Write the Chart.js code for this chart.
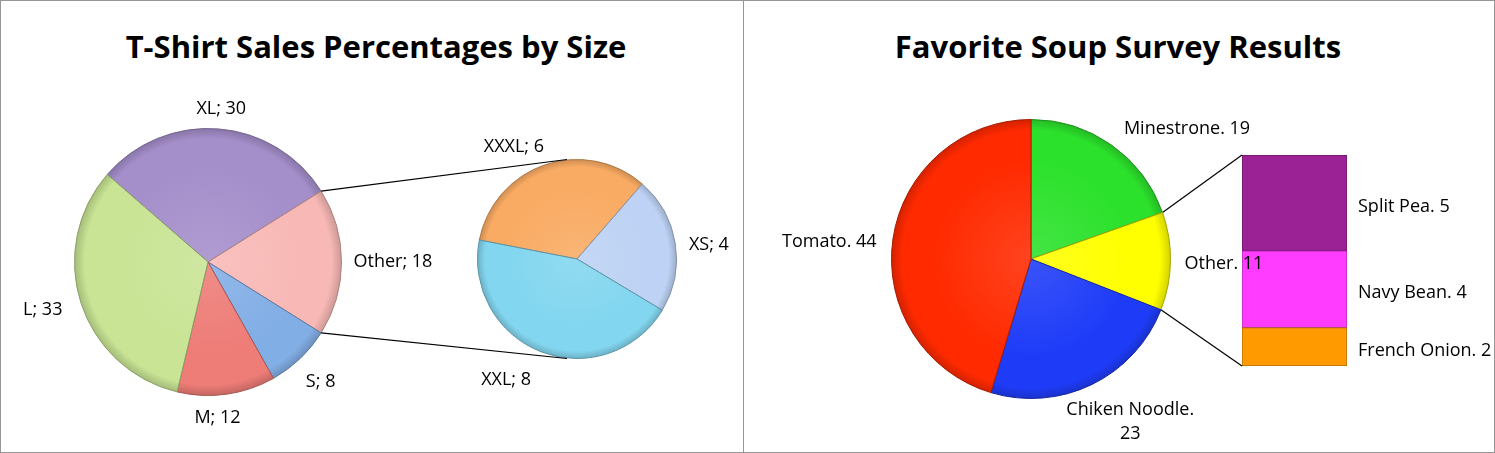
<!DOCTYPE html>
<html>
<head>
<meta charset="utf-8">
<title>Pie of pie / bar of pie</title>
<script src="https://cdn.jsdelivr.net/npm/chart.js@4.4.1/dist/chart.umd.min.js"></script>
<style>
  body { margin: 0; background: #fff; font-family: 'Open Sans', sans-serif; }
  .panel { position: absolute; top: 0; height: 451px; border: 1px solid #969696; background: #fff; overflow: hidden; }
  #left { left: 0; width: 742px; }
  #right { left: 743px; width: 750px; }
  .title { position: absolute; top: 24px; left: 0; text-align: center; font-weight: bold; font-size: 31px; color: #000; white-space: nowrap; }
  canvas { position: absolute; left: 0; top: 0; }
  #soupMain { z-index: 2; }
  #soupOther { z-index: 1; }
</style>
</head>
<body>
<div class="panel" id="left">
  <div class="title" style="width:750px">T-Shirt Sales Percentages by Size</div>
  <canvas id="sizeMain" width="742" height="451"></canvas>
  <canvas id="sizeOther" width="742" height="451"></canvas>
</div>
<div class="panel" id="right">
  <div class="title" style="width:748px">Favorite Soup Survey Results</div>
  <canvas id="soupMain" width="750" height="451"></canvas>
  <canvas id="soupOther" width="750" height="451"></canvas>
</div>
<script>
// t-shirt sizes (main pie, "Other" is split out in the small pie)
const sizeLabels = ['XL', 'Other', 'S', 'M', 'L'];
const sizeValues = [30, 18, 8, 12, 33];
const sizeOtherLabels = ['XXXL', 'XS', 'XXL'];
const sizeOtherValues = [6, 4, 8];

// soup survey (main pie, "Other" is split out in the bar)
const soupLabels = ['Minestrone', 'Other', 'Chiken Noodle', 'Tomato'];
const soupValues = [19, 11, 23, 44];
const soupOtherLabels = ['French Onion', 'Navy Bean', 'Split Pea'];
const soupOtherValues = [2, 4, 5];

const sizeColors = ['#a58fcb', '#f8b9b6', '#82aee6', '#ee7c77', '#c8e494'];
const sizeOtherColors = ['#f9ab63', '#bdd2f4', '#82d6ef'];
const soupColors = ['#2ce12c', '#ffff00', '#1e3cf8', '#ff2a00'];
const soupOtherColors = ['#ff9a00', '#ff3cff', '#9b2294'];

const FONT = { family: "'Open Sans', sans-serif", size: 18 };
const LINE_H = 24;

function shade(hex, f) {
  const n = parseInt(hex.slice(1), 16);
  let r = n >> 16, g = (n >> 8) & 255, b = n & 255;
  if (f < 0) { r *= 1 + f; g *= 1 + f; b *= 1 + f; }
  else { r += (255 - r) * f; g += (255 - g) * f; b += (255 - b) * f; }
  return `rgb(${Math.round(r)},${Math.round(g)},${Math.round(b)})`;
}

// slightly bevelled fill like the office chart style
function pieFill(colors) {
  return (c) => {
    const base = colors[c.dataIndex];
    const a = c.chart.chartArea;
    if (!a) return base;
    const cx = (a.left + a.right) / 2, cy = (a.top + a.bottom) / 2;
    const r = Math.min(a.right - a.left, a.bottom - a.top) / 2;
    const g = c.chart.ctx.createRadialGradient(cx, cy, 0, cx, cy, r);
    g.addColorStop(0, shade(base, 0.12));
    g.addColorStop(0.7, base);
    g.addColorStop(0.92, base);
    g.addColorStop(1, shade(base, -0.18));
    return g;
  };
}

function pieLabels(sep, gap, wrap, shift) {
  return {
    id: 'pieLabels',
    afterDatasetsDraw(chart) {
      const ctx = chart.ctx;
      const meta = chart.getDatasetMeta(0);
      ctx.save();
      ctx.font = `${FONT.size}px ${FONT.family}`;
      ctx.fillStyle = '#000';
      ctx.textAlign = 'center';
      ctx.textBaseline = 'middle';
      meta.data.forEach((arc, i) => {
        const p = arc.getProps(['x', 'y', 'startAngle', 'endAngle', 'outerRadius'], true);
        const mid = (p.startAngle + p.endAngle) / 2;
        const ux = Math.cos(mid), uy = Math.sin(mid);
        const name = chart.data.labels[i];
        const value = chart.data.datasets[0].data[i];
        let lines = [name + sep + value];
        if (wrap && ctx.measureText(lines[0]).width > wrap) lines = [name + sep.trim(), String(value)];
        const w = Math.max(...lines.map(l => ctx.measureText(l).width));
        const h = lines.length * LINE_H;
        const d = shift[name] || [0, 0];
        const cx = p.x + (p.outerRadius + gap) * ux + ux * w / 2 + d[0];
        const cy = p.y + (p.outerRadius + gap) * uy + uy * h / 2 + d[1];
        lines.forEach((l, k) => ctx.fillText(l, cx, cy - h / 2 + LINE_H * (k + 0.5)));
      });
      ctx.restore();
    }
  };
}

function edgePoints(chart, label) {
  const i = chart.data.labels.indexOf(label);
  const p = chart.getDatasetMeta(0).data[i].getProps(['x', 'y', 'startAngle', 'endAngle', 'outerRadius'], true);
  return [
    [p.x + p.outerRadius * Math.cos(p.startAngle), p.y + p.outerRadius * Math.sin(p.startAngle)],
    [p.x + p.outerRadius * Math.cos(p.endAngle), p.y + p.outerRadius * Math.sin(p.endAngle)]
  ];
}

function drawLines(ctx, pairs) {
  ctx.save();
  ctx.strokeStyle = '#000';
  ctx.lineWidth = 1.2;
  pairs.forEach(([a, b]) => {
    ctx.beginPath();
    ctx.moveTo(a[0], a[1]);
    ctx.lineTo(b[0], b[1]);
    ctx.stroke();
  });
  ctx.restore();
}

const pieBase = (rotation, pad) => ({
  responsive: false,
  animation: false,
  rotation,
  layout: { padding: pad },
  plugins: { legend: { display: false }, tooltip: { enabled: false } },
  events: []
});

const sizeChart = new Chart(document.getElementById('sizeMain'), {
  type: 'pie',
  data: {
    labels: sizeLabels,
    datasets: [{ data: sizeValues, backgroundColor: pieFill(sizeColors), borderColor: sizeColors.map(c => shade(c, -0.3)), borderWidth: 1, hoverOffset: 0 }]
  },
  options: pieBase(-49, { left: 73, right: 401, top: 127, bottom: 56 }),
  plugins: [pieLabels('; ', 12, 0, { XL: [0, 4], S: [2, 6], M: [-14, 0], L: [-8, 0] })]
});

new Chart(document.getElementById('sizeOther'), {
  type: 'pie',
  data: {
    labels: sizeOtherLabels,
    datasets: [{ data: sizeOtherValues, backgroundColor: pieFill(sizeOtherColors), borderColor: sizeOtherColors.map(c => shade(c, -0.3)), borderWidth: 1, hoverOffset: 0 }]
  },
  options: pieBase(-79, { left: 476, right: 66, top: 158, bottom: 93 }),
  plugins: [pieLabels('; ', 12, 0, { XXXL: [-17, 5], XS: [2, 5], XXL: [-22, 6] }), {
    id: 'connect',
    afterDraw(chart) {
      const [a, b] = edgePoints(sizeChart, 'Other');
      const s = chart.getDatasetMeta(0).data[0].getProps(['x', 'y', 'outerRadius'], true);
      drawLines(chart.ctx, [[a, [s.x - 10, s.y - s.outerRadius]], [b, [s.x - 10, s.y + s.outerRadius]]]);
    }
  }]
});

const soupChart = new Chart(document.getElementById('soupMain'), {
  type: 'pie',
  data: {
    labels: soupLabels,
    datasets: [{ data: soupValues, backgroundColor: pieFill(soupColors), borderColor: soupColors.map(c => shade(c, -0.35)), borderWidth: 1, hoverOffset: 0 }]
  },
  options: pieBase(0, { left: 147, right: 323, top: 118, bottom: 53 }),
  plugins: [pieLabels('. ', 14, 140, { Minestrone: [31, 5], 'Chiken Noodle': [4, 3], Tomato: [-3, 7], Other: [0, 2] })]
});

new Chart(document.getElementById('soupOther'), {
  type: 'bar',
  data: {
    labels: ['Other'],
    datasets: soupOtherLabels.map((name, i) => ({
      label: name,
      data: [soupOtherValues[i]],
      backgroundColor: soupOtherColors[i],
      borderColor: shade(soupOtherColors[i], -0.3),
      borderWidth: 1,
      borderSkipped: false,
      categoryPercentage: 1,
      barPercentage: 1
    }))
  },
  options: {
    responsive: false,
    animation: false,
    events: [],
    layout: { padding: { left: 498, right: 147, top: 154, bottom: 86 } },
    scales: {
      x: { stacked: true, display: false },
      y: { stacked: true, display: false, min: 0, max: 11 }
    },
    plugins: { legend: { display: false }, tooltip: { enabled: false } }
  },
  plugins: [{
    id: 'barLabels',
    afterDraw(chart) {
      const ctx = chart.ctx;
      ctx.save();
      ctx.font = `${FONT.size}px ${FONT.family}`;
      ctx.fillStyle = '#000';
      ctx.textBaseline = 'middle';
      chart.data.datasets.forEach((ds, i) => {
        const bar = chart.getDatasetMeta(i).data[0].getProps(['x', 'y', 'base', 'width'], true);
        ctx.fillText(ds.label + '. ' + ds.data[0], bar.x + bar.width / 2 + 11, (bar.y + bar.base) / 2 + 4);
      });
      ctx.restore();
      const top = chart.getDatasetMeta(chart.data.datasets.length - 1).data[0].getProps(['x', 'y', 'width'], true);
      const bottom = chart.getDatasetMeta(0).data[0].getProps(['x', 'base', 'width'], true);
      const [a, b] = edgePoints(soupChart, 'Other');
      drawLines(ctx, [[a, [top.x - top.width / 2, top.y]], [b, [bottom.x - bottom.width / 2, bottom.base]]]);
    }
  }]
});
</script>
</body>
</html>
